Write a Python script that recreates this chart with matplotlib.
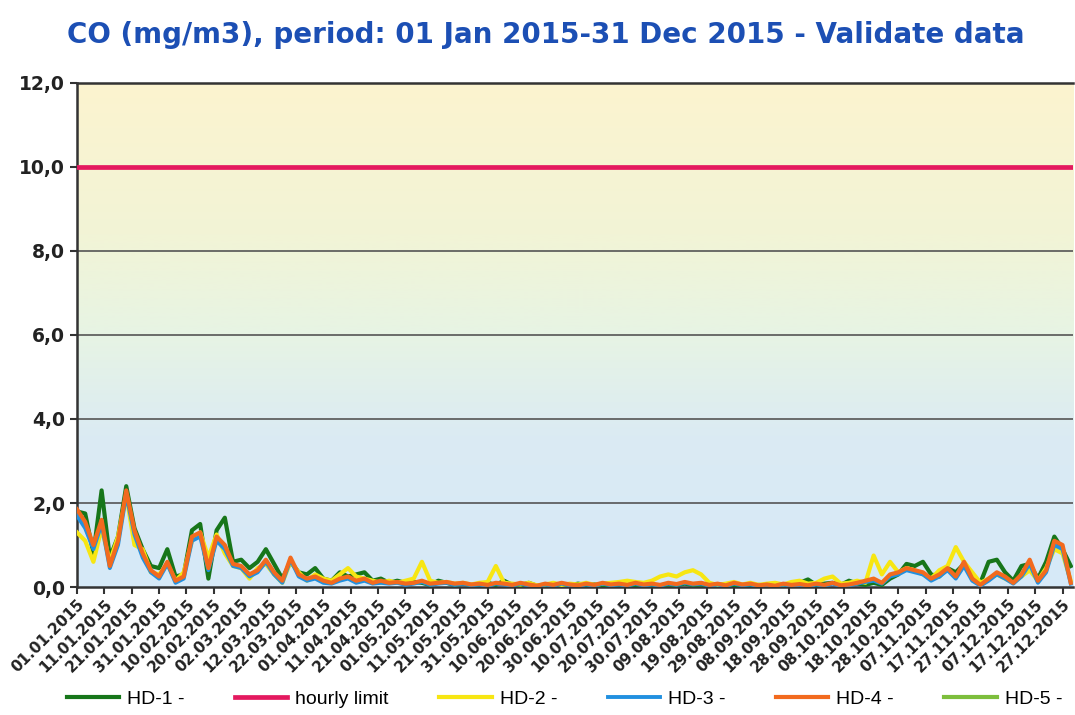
import numpy as np
import pandas as pd
import matplotlib
matplotlib.use("Agg")
import matplotlib.pyplot as plt
import matplotlib.dates as mdates
from matplotlib.colors import LinearSegmentedColormap

dates = pd.date_range("2015-01-01", periods=122, freq="3D")

hd1 = [1.8, 1.75, 0.8, 2.3, 0.7, 1.2, 2.4, 1.4, 0.9, 0.5, 0.45, 0.9, 0.25, 0.3, 1.35, 1.5,
       0.2, 1.35, 1.65, 0.6, 0.65, 0.45, 0.6, 0.9, 0.55, 0.2, 0.6, 0.35, 0.3, 0.45, 0.2, 0.15,
       0.35, 0.25, 0.3, 0.35, 0.15, 0.2, 0.1, 0.15, 0.1, 0.12, 0.1, 0.05, 0.15, 0.1, 0.05, 0.08,
       0.05, 0.06, 0.1, 0.05, 0.15, 0.05, 0.04, 0.1, 0.03, 0.05, 0.08, 0.05, 0.04, 0.08, 0.05, 0.06,
       0.04, 0.05, 0.06, 0.04, 0.05, 0.08, 0.05, 0.04, 0.06, 0.05, 0.08, 0.05, 0.06, 0.04, 0.05, 0.06,
       0.04, 0.05, 0.03, 0.05, 0.04, 0.06, 0.05, 0.08, 0.1, 0.18, 0.05, 0.08, 0.1, 0.05, 0.15, 0.08,
       0.05, 0.1, 0.05, 0.2, 0.3, 0.55, 0.5, 0.6, 0.3, 0.25, 0.45, 0.35, 0.55, 0.25, 0.1, 0.6,
       0.65, 0.35, 0.15, 0.5, 0.55, 0.2, 0.6, 1.2, 0.9, 0.5]

hd2 = [1.3, 1.1, 0.6, 1.4, 0.6, 1.2, 2.2, 1.0, 0.9, 0.35, 0.3, 0.55, 0.15, 0.35, 1.1, 1.3,
       0.7, 1.25, 0.8, 0.5, 0.45, 0.2, 0.45, 0.55, 0.3, 0.1, 0.6, 0.35, 0.15, 0.3, 0.2, 0.15,
       0.3, 0.45, 0.25, 0.2, 0.15, 0.1, 0.15, 0.1, 0.15, 0.2, 0.6, 0.15, 0.1, 0.12, 0.08, 0.1,
       0.06, 0.1, 0.12, 0.5, 0.1, 0.08, 0.06, 0.1, 0.04, 0.06, 0.1, 0.05, 0.08, 0.06, 0.1, 0.05,
       0.08, 0.1, 0.12, 0.15, 0.12, 0.1, 0.15, 0.25, 0.3, 0.25, 0.35, 0.4, 0.3, 0.1, 0.05, 0.08,
       0.12, 0.06, 0.1, 0.05, 0.08, 0.1, 0.06, 0.12, 0.15, 0.08, 0.1, 0.2, 0.25, 0.08, 0.1, 0.15,
       0.1, 0.75, 0.3, 0.6, 0.35, 0.45, 0.4, 0.3, 0.2, 0.4, 0.5, 0.95, 0.6, 0.35, 0.1, 0.2,
       0.3, 0.2, 0.1, 0.25, 0.4, 0.15, 0.45, 0.9, 0.8, 0.15]

hd3 = [1.7, 1.4, 0.9, 1.5, 0.45, 1.0, 2.2, 1.25, 0.7, 0.35, 0.2, 0.55, 0.1, 0.2, 1.1, 1.2,
       0.4, 1.1, 0.9, 0.5, 0.45, 0.25, 0.35, 0.6, 0.3, 0.1, 0.65, 0.25, 0.15, 0.2, 0.1, 0.08,
       0.15, 0.2, 0.1, 0.15, 0.08, 0.1, 0.08, 0.1, 0.05, 0.08, 0.12, 0.05, 0.08, 0.1, 0.05, 0.08,
       0.04, 0.06, 0.03, 0.08, 0.06, 0.03, 0.08, 0.04, 0.02, 0.06, 0.03, 0.08, 0.04, 0.03, 0.06, 0.03,
       0.08, 0.04, 0.06, 0.03, 0.08, 0.04, 0.06, 0.03, 0.08, 0.05, 0.1, 0.06, 0.08, 0.03, 0.06, 0.02,
       0.08, 0.04, 0.06, 0.02, 0.04, 0.02, 0.06, 0.03, 0.05, 0.02, 0.06, 0.03, 0.08, 0.02, 0.04, 0.08,
       0.12, 0.15, 0.08, 0.25, 0.3, 0.4, 0.35, 0.3, 0.15, 0.25, 0.4, 0.2, 0.5, 0.15, 0.03, 0.15,
       0.3, 0.2, 0.08, 0.25, 0.55, 0.1, 0.35, 1.0, 0.9, 0.08]

hd4 = [1.85, 1.55, 1.0, 1.6, 0.5, 1.1, 2.3, 1.35, 0.8, 0.4, 0.25, 0.6, 0.15, 0.25, 1.2, 1.3,
       0.45, 1.2, 1.0, 0.55, 0.5, 0.3, 0.4, 0.65, 0.35, 0.15, 0.7, 0.3, 0.2, 0.25, 0.15, 0.1,
       0.2, 0.25, 0.15, 0.2, 0.1, 0.15, 0.1, 0.12, 0.08, 0.1, 0.15, 0.08, 0.1, 0.12, 0.08, 0.1,
       0.06, 0.08, 0.05, 0.1, 0.08, 0.05, 0.1, 0.06, 0.03, 0.08, 0.05, 0.1, 0.06, 0.04, 0.08, 0.05,
       0.1, 0.06, 0.08, 0.05, 0.1, 0.06, 0.08, 0.05, 0.1, 0.07, 0.12, 0.08, 0.1, 0.05, 0.08, 0.04,
       0.1, 0.06, 0.08, 0.04, 0.06, 0.03, 0.08, 0.05, 0.07, 0.04, 0.08, 0.05, 0.1, 0.04, 0.06, 0.1,
       0.15, 0.2, 0.1, 0.3, 0.35, 0.45, 0.4, 0.35, 0.2, 0.3, 0.45, 0.25, 0.6, 0.2, 0.05, 0.2,
       0.35, 0.25, 0.1, 0.3, 0.65, 0.15, 0.4, 1.1, 1.0, 0.1]

hd5 = []

limit_dates = pd.to_datetime(["2015-01-01", "2015-12-31"])
limit_values = [10.0, 10.0]

tick_dates = pd.date_range("2015-01-01", "2015-12-31", freq="10D")
y_ticks = [0, 2, 4, 6, 8, 10, 12]

# --- Figur ---
fig = plt.figure(figsize=(10.75, 7.15), dpi=100)
ax = fig.add_axes([0.0716, 0.179, 0.927, 0.705])

x0 = mdates.date2num(pd.Timestamp("2015-01-01"))
x1 = mdates.date2num(pd.Timestamp("2015-12-31"))

# Hintergrund-Verlauf
bg = LinearSegmentedColormap.from_list(
    "bg", [(0.0, "#d6e9f8"), (0.3, "#dbebf3"), (0.5, "#e7f4e4"),
           (0.7, "#f2f4d6"), (1.0, "#fcf3cf")])
grad = np.linspace(0, 1, 256).reshape(-1, 1)
ax.imshow(grad, cmap=bg, origin="lower", aspect="auto",
          extent=[x0, x1, 0, 12], zorder=0)

for yv in [2, 4, 6, 8]:
    ax.axhline(yv, color="#555555", lw=1.2, zorder=1)

ax.plot(dates, hd1, color="#17761a", lw=3, label="HD-1 -", zorder=3)
ax.plot(limit_dates, limit_values, color="#e4195f", lw=3.4, label="hourly limit", zorder=3)
ax.plot(dates, hd2, color="#f7e612", lw=3, label="HD-2 -", zorder=3)
ax.plot(dates, hd3, color="#2190e0", lw=2.8, label="HD-3 -", zorder=3)
ax.plot(dates, hd4, color="#f26a1e", lw=3, label="HD-4 -", zorder=3)
ax.plot(dates[:len(hd5)], hd5, color="#7dbe3c", lw=3, label="HD-5 -", zorder=3)

ax.set_xlim(x0, x1)
ax.set_ylim(0, 12)

ax.set_yticks(y_ticks)
ax.set_yticklabels([f"{v:.1f}".replace(".", ",") for v in y_ticks],
                   fontsize=13.5, fontweight="bold", color="#222222")
ax.set_xticks(tick_dates)
ax.set_xticklabels([d.strftime("%d.%m.%Y") for d in tick_dates],
                   rotation=45, ha="right", rotation_mode="anchor",
                   fontsize=11, fontweight="bold", color="#222222")
ax.tick_params(axis="both", direction="out", length=5, width=1.5, color="#333333")
ax.tick_params(axis="x", pad=2)

for side in ["left", "bottom", "top"]:
    ax.spines[side].set_color("#333333")
    ax.spines[side].set_linewidth(1.8)
ax.spines["right"].set_visible(False)

fig.text(0.508, 0.951, "CO (mg/m3), period: 01 Jan 2015-31 Dec 2015 - Validate data",
         ha="center", va="center", fontsize=20, fontweight="bold", color="#1c4fb4")

fig.legend(loc="center", bbox_to_anchor=(0.525, 0.022), ncol=6, frameon=False,
           handlelength=2.7, columnspacing=2.6, handletextpad=0.4,
           prop={"family": "Liberation Sans", "size": 14})

fig.savefig("out.png", dpi=100)
